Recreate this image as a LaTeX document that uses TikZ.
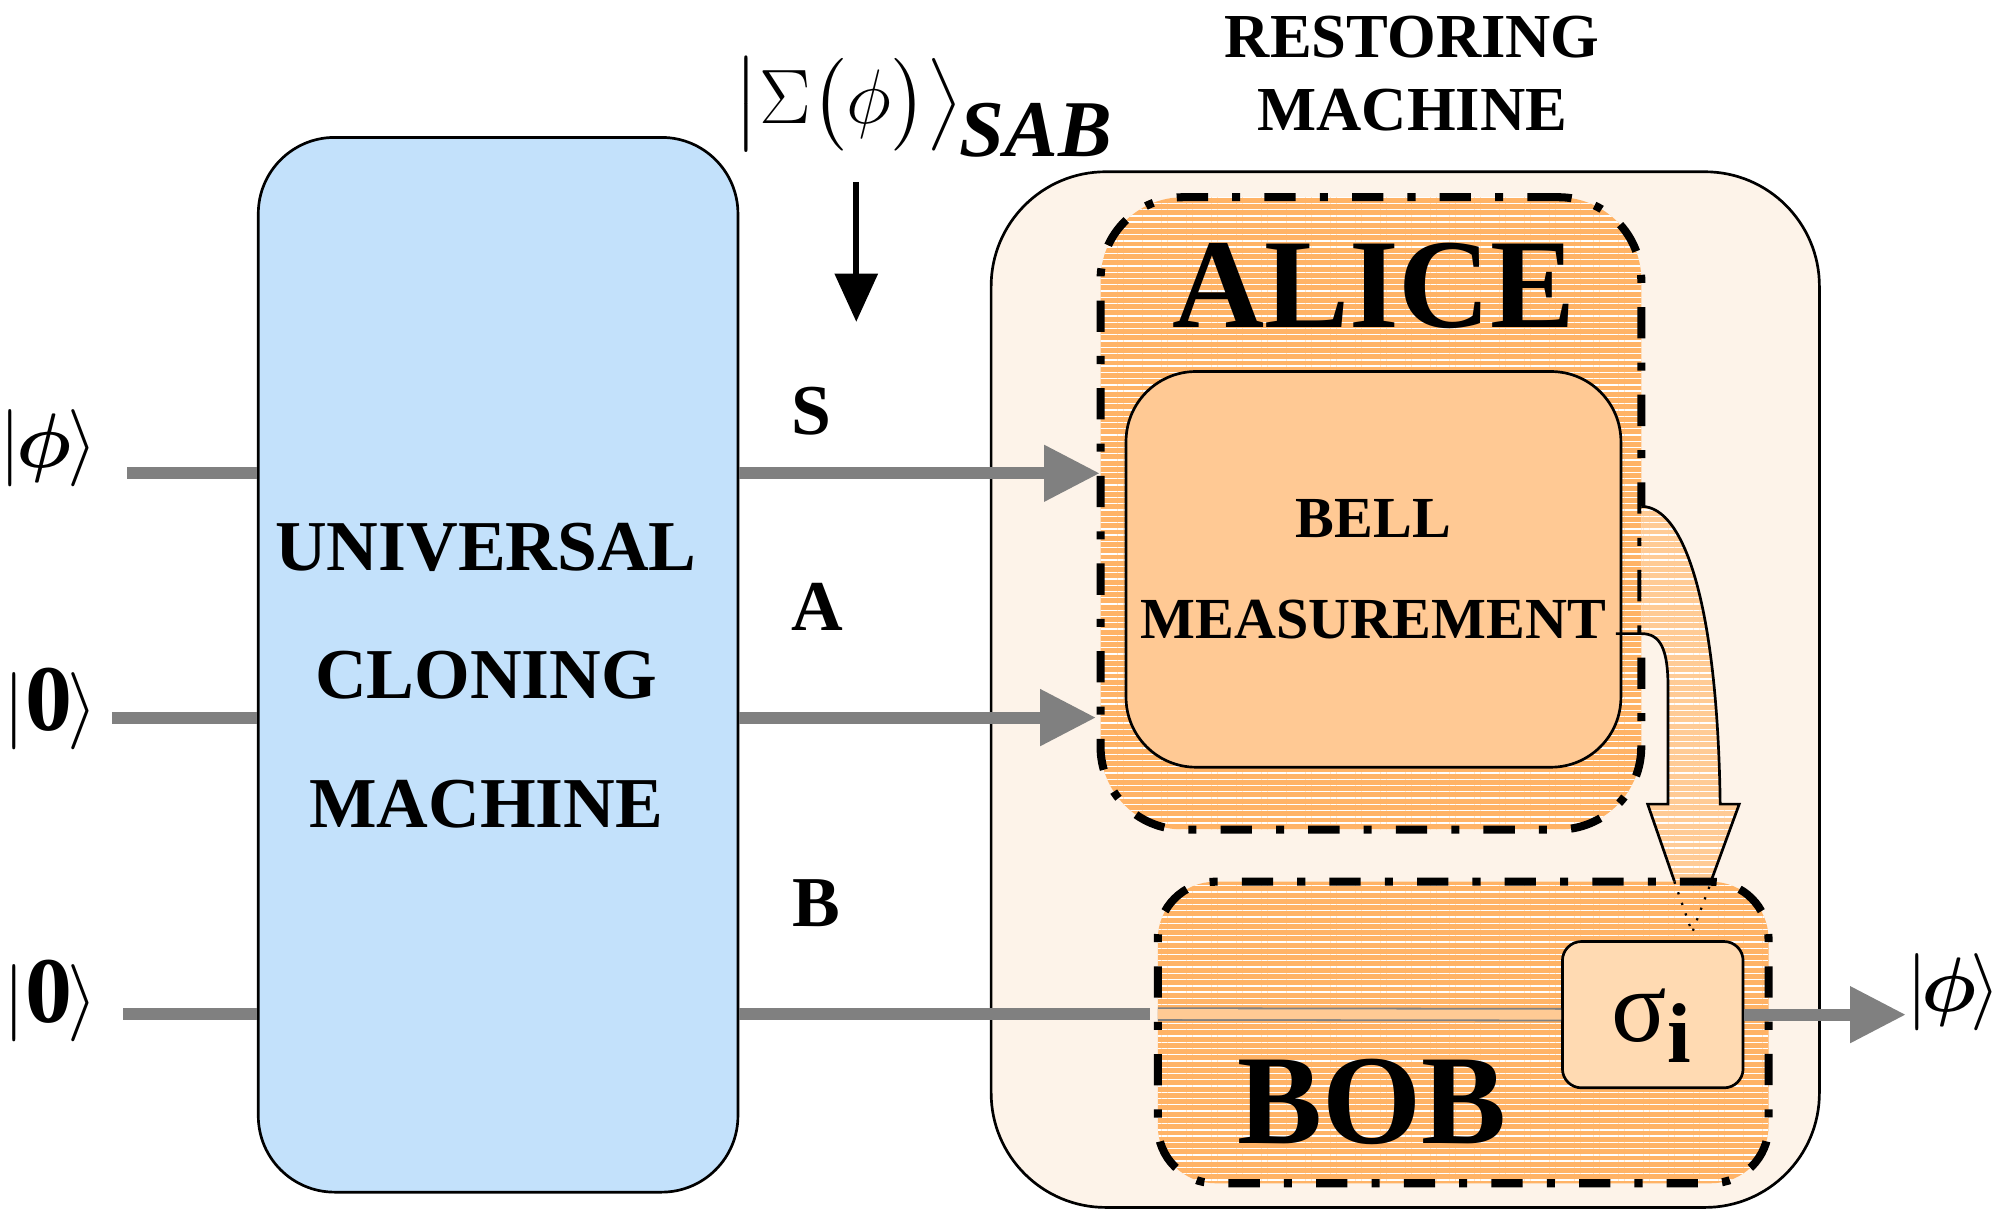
\documentclass[tikz,border=0pt]{standalone}
\usepackage{fontspec}
\setmainfont{Liberation Serif}
\usepackage{amsmath}
\usetikzlibrary{arrows.meta,patterns.meta}
\definecolor{clonefill}{HTML}{C3E1FB}
\definecolor{restorefill}{HTML}{FDF3E9}
\definecolor{hatchorange}{HTML}{FFB366}
\definecolor{bellfill}{HTML}{FFC994}
\definecolor{sigmafill}{HTML}{FFDAB2}
\definecolor{chanfill}{HTML}{FFCB95}
\definecolor{wiregray}{HTML}{808080}
\tikzset{
 clonebox/.style={draw=black, line width=0.6pt, fill=clonefill, rounded corners=6mm},
 restorebox/.style={draw=black, line width=0.6pt, fill=restorefill, rounded corners=9mm},
 partybox/.style={draw=black, line width=1.8pt, dash pattern=on 7pt off 5.4pt on 1.8pt off 5.4pt,
   preaction={fill=hatchorange}, pattern={Lines[angle=0,distance=1.4pt,line width=0.3pt]}, pattern color=white},
 bellbox/.style={draw=black, line width=0.6pt, fill=bellfill, rounded corners=5.5mm},
 sigmabox/.style={draw=black, line width=0.6pt, fill=sigmafill, rounded corners=1.5mm},
 wire/.style={draw=wiregray, line width=2.7pt},
 wirearrow/.style={wire, -{Triangle[length=12.5pt,width=12pt]}},
 ket/.style={inner sep=0pt, font=\fontsize{18}{18}\selectfont},
 wirelbl/.style={font=\fontsize{16}{19}\selectfont\bfseries},
 bigname/.style={font=\fontsize{28.5}{30}\selectfont\bfseries}
}
\begin{document}
\begin{tikzpicture}[x=0.1mm, y=-0.1mm]
 \useasboundingbox (0,0) rectangle (1568,952);
 %
 \node[clonebox, minimum width=37.7mm, minimum height=82.9mm] (clone) at (391.5,522.5) {};
 \node[align=center, font=\fontsize{16}{28.7}\selectfont\bfseries] (clonelbl) at (382,531) {UNIVERSAL\\CLONING\\MACHINE};
 \node[restorebox, minimum width=65.1mm, minimum height=81.4mm] (restore) at (1104.5,542) {};
 \node[align=center, font=\fontsize{14}{16.3}\selectfont\bfseries] (restorelbl) at (1110,58) {RESTORING\\MACHINE};
 %
 \node[partybox, rounded corners=6.5mm, minimum width=42.5mm, minimum height=49.7mm] (alice) at (1077.5,403.5) {};
 \node[bigname] (alicelbl) at (1080,225) {ALICE};
 \node[bellbox, minimum width=38.1mm, minimum height=31.1mm, align=center,
   font=\fontsize{13}{22.5}\selectfont\bfseries] (bell) at (1079.5,447.5) {BELL\\MEASUREMENT};
 %
 \fill[preaction={fill=chanfill}, pattern={Lines[angle=0,distance=1.4pt,line width=0.3pt]}, pattern color=white]
   (1290,398) .. controls (1325,398) and (1350,480) .. (1352,632) -- (1367,632) -- (1330,733)
   -- (1295,632) -- (1311,632) -- (1311,540) .. controls (1311,510) and (1305,498) .. (1290,498) -- cycle;
 \draw[line width=0.6pt] (1290,398) .. controls (1325,398) and (1350,480) .. (1352,632) -- (1367,632) -- (1330,733)
   -- (1295,632) -- (1311,632) -- (1311,540) .. controls (1311,510) and (1305,498) .. (1290,498) -- (1270,498);
 %
 \coordinate (inS) at (100,372);
 \coordinate (inA) at (88,564);
 \coordinate (inB) at (97,797);
 \draw[wire] (inS) -- (inS -| clone.west);
 \draw[wire] (inA) -- (inA -| clone.west);
 \draw[wire] (inB) -- (inB -| clone.west);
 \draw[wirearrow] (clone.east |- inS) -- (alice.west |- inS);
 \draw[wirearrow] (clone.east |- inA) -- ([xshift=-0.3mm]alice.west |- inA);
 %
 \node[partybox, rounded corners=4.5mm, minimum width=48mm, minimum height=23.7mm] (bob) at (1150,811.5) {};
 \draw[wire] (clone.east |- inB) -- ([xshift=-0.9pt]bob.west |- inB);
 \draw[line width=0.5pt, dotted] (1316,693) -- (1330,733) -- (1345,693);
 \node[bigname] (boblbl) at (1078,866) {BOB};
 \node[sigmabox, minimum width=14.2mm, minimum height=11.5mm] (sigma) at (1299,797.5) {};
 \node[font=\fontsize{23}{23}\selectfont] (sigmalbl) at (1298,806) {σ\raisebox{-0.45ex}{\fontsize{19}{19}\selectfont\textbf{i}}};
 \draw[draw=wiregray, line width=0.4pt, double=hatchorange!70, double distance=2.2pt] ([xshift=0.9pt]bob.west |- inB) -- (sigma.west);
 %
 \node[ket, anchor=west, font=\fontsize{17}{17}\selectfont] (kout) at (1498,780) {$|\mkern-1.5mu\boldsymbol{\phi}\mkern-1.5mu\rangle$};
 \draw[wirearrow] (sigma.east) -- (sigma.east -| kout.west);
 %
 \node[ket] (kphi) at (38,352) {$|\mkern-1mu\boldsymbol{\phi}\mkern-1mu\rangle$};
 \node[ket] (kzeroA) at (40,557) {$|$\textbf{\fontsize{21}{21}\selectfont 0}$\mkern-1mu\rangle$};
 \node[ket] (kzeroB) at (40,787) {$|$\textbf{\fontsize{21}{21}\selectfont 0}$\mkern-1mu\rangle$};
 %
 \node[wirelbl] (lblS) at (638,323) {S};
 \node[wirelbl] (lblA) at (642,477) {A};
 \node[wirelbl] (lblB) at (642,710) {B};
 %
 \node[inner sep=0pt, font=\fontsize{17}{17}\selectfont] (sumket) at (667,82) {$\bigl|\Sigma\bigl(\phi\bigr)\bigr\rangle$};
 \node[inner sep=0pt, font=\fontsize{18}{18}\selectfont\bfseries\itshape] (sab) at (814,102) {SAB};
 \coordinate (downtop) at (673,143);
 \coordinate (downend) at (673,253);
 \draw[line width=1.4pt, -{Triangle[length=10.8pt,width=9.4pt]}] (downtop) -- (downend);
\end{tikzpicture}
\end{document}
